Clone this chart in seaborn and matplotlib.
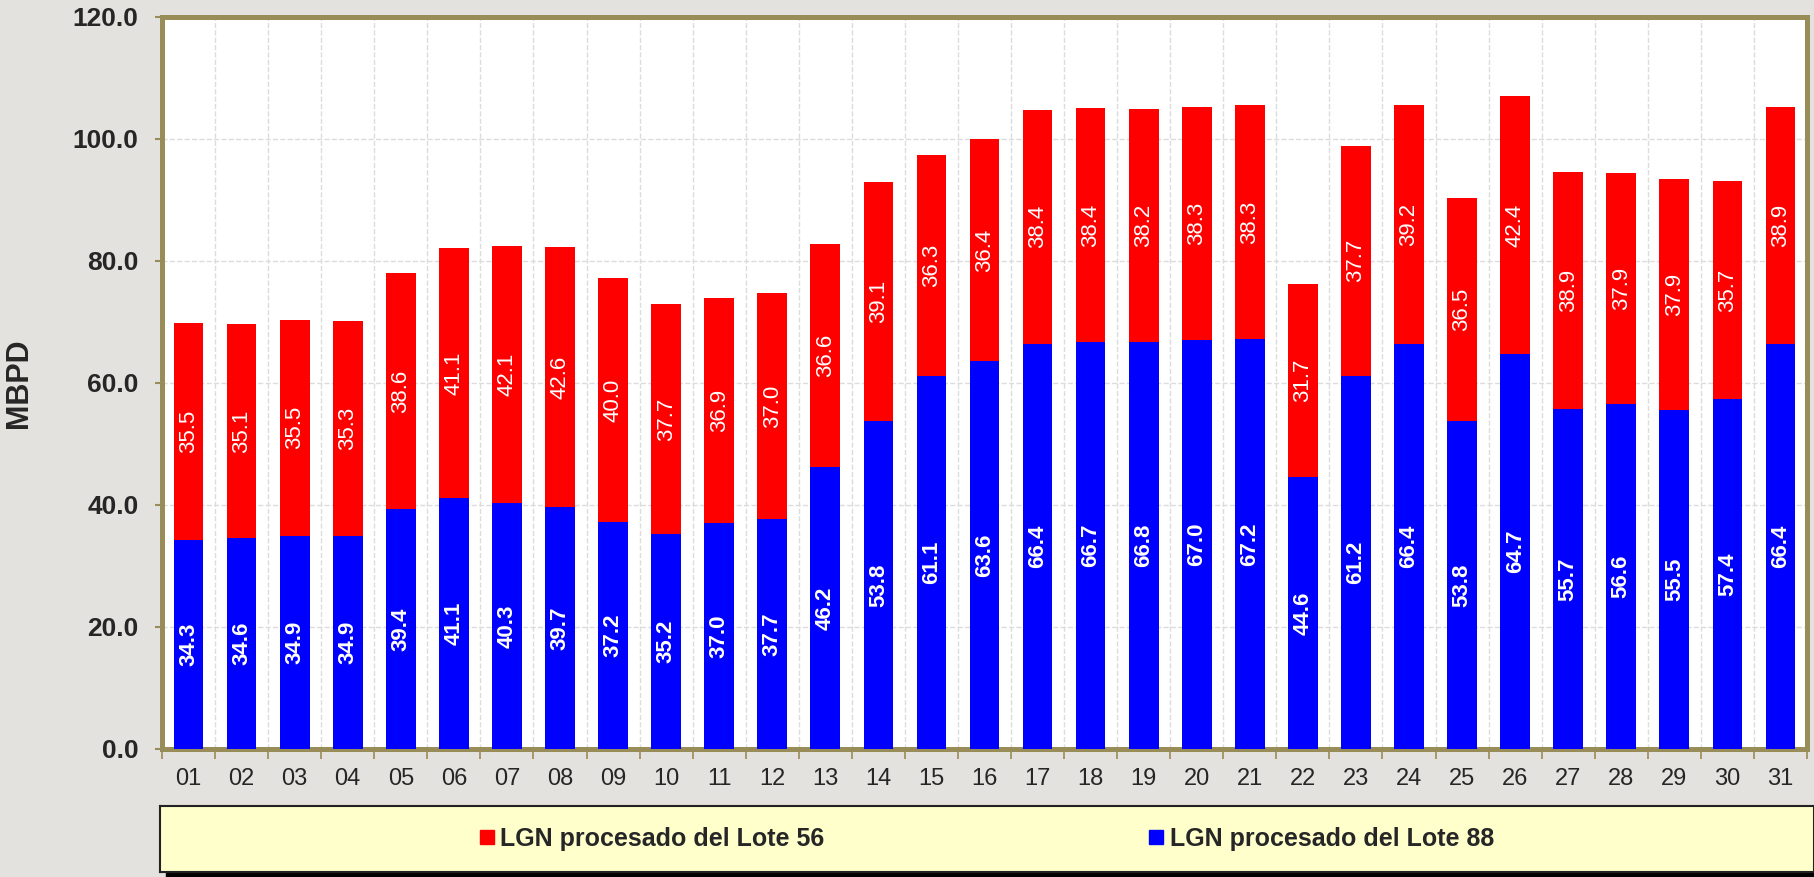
import matplotlib
matplotlib.use("Agg")
import matplotlib.pyplot as plt
from matplotlib.lines import Line2D
from matplotlib.patches import Rectangle
from matplotlib.ticker import FormatStrFormatter
import numpy as np
import pandas as pd
import seaborn as sns

# LGN procesado por dia (MBPD)
days = ["01", "02", "03", "04", "05", "06", "07", "08", "09", "10",
        "11", "12", "13", "14", "15", "16", "17", "18", "19", "20",
        "21", "22", "23", "24", "25", "26", "27", "28", "29", "30", "31"]
lote88 = [34.3, 34.6, 34.9, 34.9, 39.4, 41.1, 40.3, 39.7, 37.2, 35.2,
          37.0, 37.7, 46.2, 53.8, 61.1, 63.6, 66.4, 66.7, 66.8, 67.0,
          67.2, 44.6, 61.2, 66.4, 53.8, 64.7, 55.7, 56.6, 55.5, 57.4, 66.4]
lote56 = [35.5, 35.1, 35.5, 35.3, 38.6, 41.1, 42.1, 42.6, 40.0, 37.7,
          36.9, 37.0, 36.6, 39.1, 36.3, 36.4, 38.4, 38.4, 38.2, 38.3,
          38.3, 31.7, 37.7, 39.2, 36.5, 42.4, 38.9, 37.9, 37.9, 35.7, 38.9]
legend_labels = ["LGN procesado del Lote 56", "LGN procesado del Lote 88"]

sns.set_style("ticks")
plt.rcParams['font.family'] = ['Liberation Sans', 'DejaVu Sans']

OLIVE = '#988c58'
RED = '#ff0000'
BLUE = '#0000ff'

df = pd.DataFrame({'dia': days, 'lote88': lote88, 'lote56': lote56})
df['total'] = df['lote88'] + df['lote56']

fig = plt.figure(figsize=(18.15, 8.77), dpi=100, facecolor='#e3e2de')
ax = fig.add_axes([162 / 1815, 128 / 877, 1645 / 1815, 732 / 877])
ax.set_facecolor('white')

# stacked bars: total in red, then lote 88 in blue on top
sns.barplot(data=df, x='dia', y='total', color=RED, width=0.56, saturation=1,
            errorbar=None, ax=ax, edgecolor='none')
sns.barplot(data=df, x='dia', y='lote88', color=BLUE, width=0.56, saturation=1,
            errorbar=None, ax=ax, edgecolor='none')

for i, (b, r) in enumerate(zip(lote88, lote56)):
    ax.text(i, b / 2, f"{b:.1f}", rotation=90, ha='center', va='center',
            color='white', fontsize=16, fontweight='bold')
    ax.text(i, b + r / 2, f"{r:.1f}", rotation=90, ha='center', va='center',
            color='white', fontsize=16)

ax.set_xlim(-0.5, len(days) - 0.5)
ax.set_ylim(0, 120)
ax.set_yticks(np.arange(0, 121, 20))
ax.yaxis.set_major_formatter(FormatStrFormatter('%.1f'))
ax.set_xticks(np.arange(-0.5, len(days), 1), minor=True)

ax.tick_params(axis='x', which='major', length=0, pad=14, labelsize=17)
ax.tick_params(axis='x', which='minor', length=7, color=OLIVE, width=1.2, bottom=True)
ax.tick_params(axis='y', which='major', length=5, color=OLIVE, width=1.5, pad=12,
               labelsize=19, left=True)
for lbl in ax.get_yticklabels():
    lbl.set_fontweight('bold')

ax.grid(axis='y', which='major', ls='--', color='#dcdcdc', lw=1)
ax.grid(axis='x', which='minor', ls='--', color='#dcdcdc', lw=1)
ax.set_axisbelow(True)

for s in ax.spines.values():
    s.set_visible(True)
    s.set_color(OLIVE)
    s.set_linewidth(3.6)
ax.spines['bottom'].set_zorder(0.9)

ax.set_xlabel('')
ax.set_ylabel('MBPD', fontsize=22, fontweight='bold')
ax.yaxis.set_label_coords(-0.078, 0.5)

# legend box with shadow
lax = fig.add_axes([160 / 1815, 5 / 877, 1654 / 1815, 66 / 877])
lax.set_facecolor('#ffffcc')
lax.set_xticks([])
lax.set_yticks([])
for s in lax.spines.values():
    s.set_color('#222222')
    s.set_linewidth(1.5)
fig.patches.append(Rectangle((166 / 1815, 0), 1649 / 1815, 8 / 877,
                             transform=fig.transFigure, color='black', zorder=-1))

handles = [Line2D([], [], marker='s', ls='none', color=RED, markersize=9.5),
           Line2D([], [], marker='s', ls='none', color=BLUE, markersize=9.5)]
lax.legend(handles, legend_labels, loc='center', ncol=2, frameon=False,
           prop={'weight': 'bold', 'size': 18}, handlelength=0.55,
           handletextpad=0.25, columnspacing=13)

fig.savefig('out.png', dpi=100, facecolor=fig.get_facecolor())
